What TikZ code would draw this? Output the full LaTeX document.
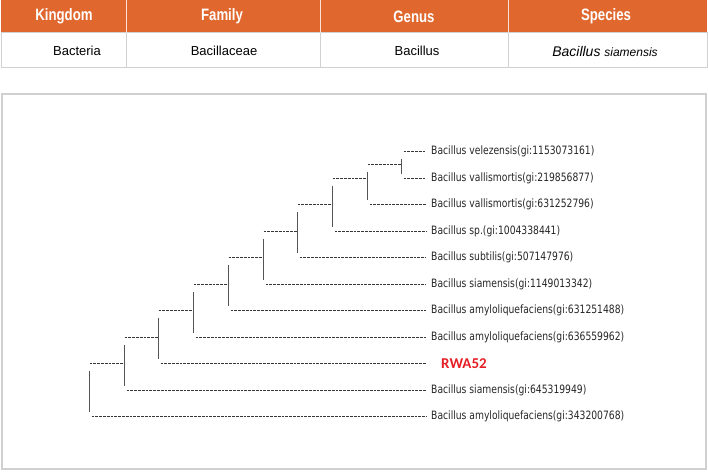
\documentclass[tikz,border=0pt]{standalone}
\usepackage{fontspec}
\setmainfont{Liberation Sans}
\newfontfamily\headfont[FakeStretch=0.8]{Liberation Sans}
\newfontfamily\treefont[FakeStretch=0.8]{DejaVu Sans}
\newfontfamily\tagfont{Carlito}
\usetikzlibrary{positioning, calc}

\definecolor{hdrorange}{RGB}{224,104,46}
\definecolor{rulegray}{RGB}{208,208,208}
\definecolor{branchgray}{RGB}{55,55,55}
\definecolor{tagred}{RGB}{228,30,36}

\begin{document}
\begin{tikzpicture}[x=1pt, y=-1pt,
        hdr/.style={font=\headfont\bfseries\fontsize{16.5}{18}\selectfont, text=white},
        cell/.style={font=\fontsize{13}{15}\selectfont, text=black},
        leaf/.style={font=\treefont\fontsize{11.5}{13}\selectfont, text=black!85, anchor=west, inner xsep=5pt, inner ysep=1pt},
        branch/.style={draw=branchgray, line width=1.6pt, dash pattern=on 2.8pt off 1pt},
        joint/.style={draw=branchgray!85, line width=1.2pt}]
        \useasboundingbox (0,0) rectangle (708,473);

        % taxonomy table
        \fill[hdrorange] (1,0) rectangle (707,33);
        \draw[rulegray, line width=1pt] (1,33) rectangle (707,68);
        \foreach \cx in {126,320,508} {
            \draw[white!80!hdrorange, line width=1pt] (\cx,0) -- (\cx,33);
            \draw[rulegray, line width=1pt] (\cx,33) -- (\cx,68);
        }
        \node[hdr] (kingdom) at (64,16.5) {Kingdom};
        \node[hdr] (family)  at (222,16.5) {Family};
        \node[hdr] (genus)   at (414,16.5) {Genus};
        \node[hdr] (species) at (606,16.5) {Species};
        \node[cell] (bacteria) at (77,51) {Bacteria};
        \node[cell] (bacillaceae) at (224,51) {Bacillaceae};
        \node[cell] (bacillus) at (417,51) {Bacillus};
        \node[cell] (siamensis) at (605,51) {\itshape\fontsize{14}{16}\selectfont Bacillus \fontsize{12}{14}\selectfont siamensis};

        % tree frame
        \draw[rulegray, line width=1.3pt] (2,94) rectangle (706,469);

        % joints (x, y of the incoming branch)
        \coordinate (j1) at (401.5,164.5);
        \foreach \k in {2,...,10}
            \coordinate (j\k) at ({round(401.3-34.7*(\k-1))+0.5}, {round(151+26.5*(\k-1))+0.5});

        % leaves
        \foreach \i/\txt in {1/{Bacillus velezensis(gi:1153073161)},
                             2/{Bacillus vallismortis(gi:219856877)},
                             3/{Bacillus vallismortis(gi:631252796)},
                             4/{Bacillus sp.(gi:1004338441)},
                             5/{Bacillus subtilis(gi:507147976)},
                             6/{Bacillus siamensis(gi:1149013342)},
                             7/{Bacillus amyloliquefaciens(gi:631251488)},
                             8/{Bacillus amyloliquefaciens(gi:636559962)},
                             10/{Bacillus siamensis(gi:645319949)},
                             11/{Bacillus amyloliquefaciens(gi:343200768)}}
            \node[leaf] (l\i) at (426, {round(151+26.5*(\i-1))+0.5}) {\txt};
        \node[leaf, inner xsep=15pt, text=tagred, font=\tagfont\bfseries\fontsize{15}{17}\selectfont] (l9) at (426,363.5) {RWA52};

        % leaf branches
        \foreach \i/\p in {1/1,2/1,3/2,4/3,5/4,6/5,7/6,8/7,9/8,10/9,11/10}
            \draw[branch] ($(j\p |- l\i)+(2,0)$) -- (l\i.west);

        % inner branches
        \foreach \k/\p in {1/2,2/3,3/4,4/5,5/6,6/7,7/8,8/9,9/10}
            \draw[branch] (j\p |- j\k) -- (j\k);

        % verticals
        \draw[joint] ($(j1 |- l1)+(0,7)$) -- ($(j1 |- l2)+(0,-5)$);
        \foreach \k/\c/\i in {2/1/3,3/2/4,4/3/5,5/4/6,6/5/7,7/6/8,8/7/9,9/8/10,10/9/11}
            \draw[joint] ($(j\k |- j\c)+(0,7)$) -- ($(j\k |- l\i)+(0,-5)$);
\end{tikzpicture}
\end{document}
